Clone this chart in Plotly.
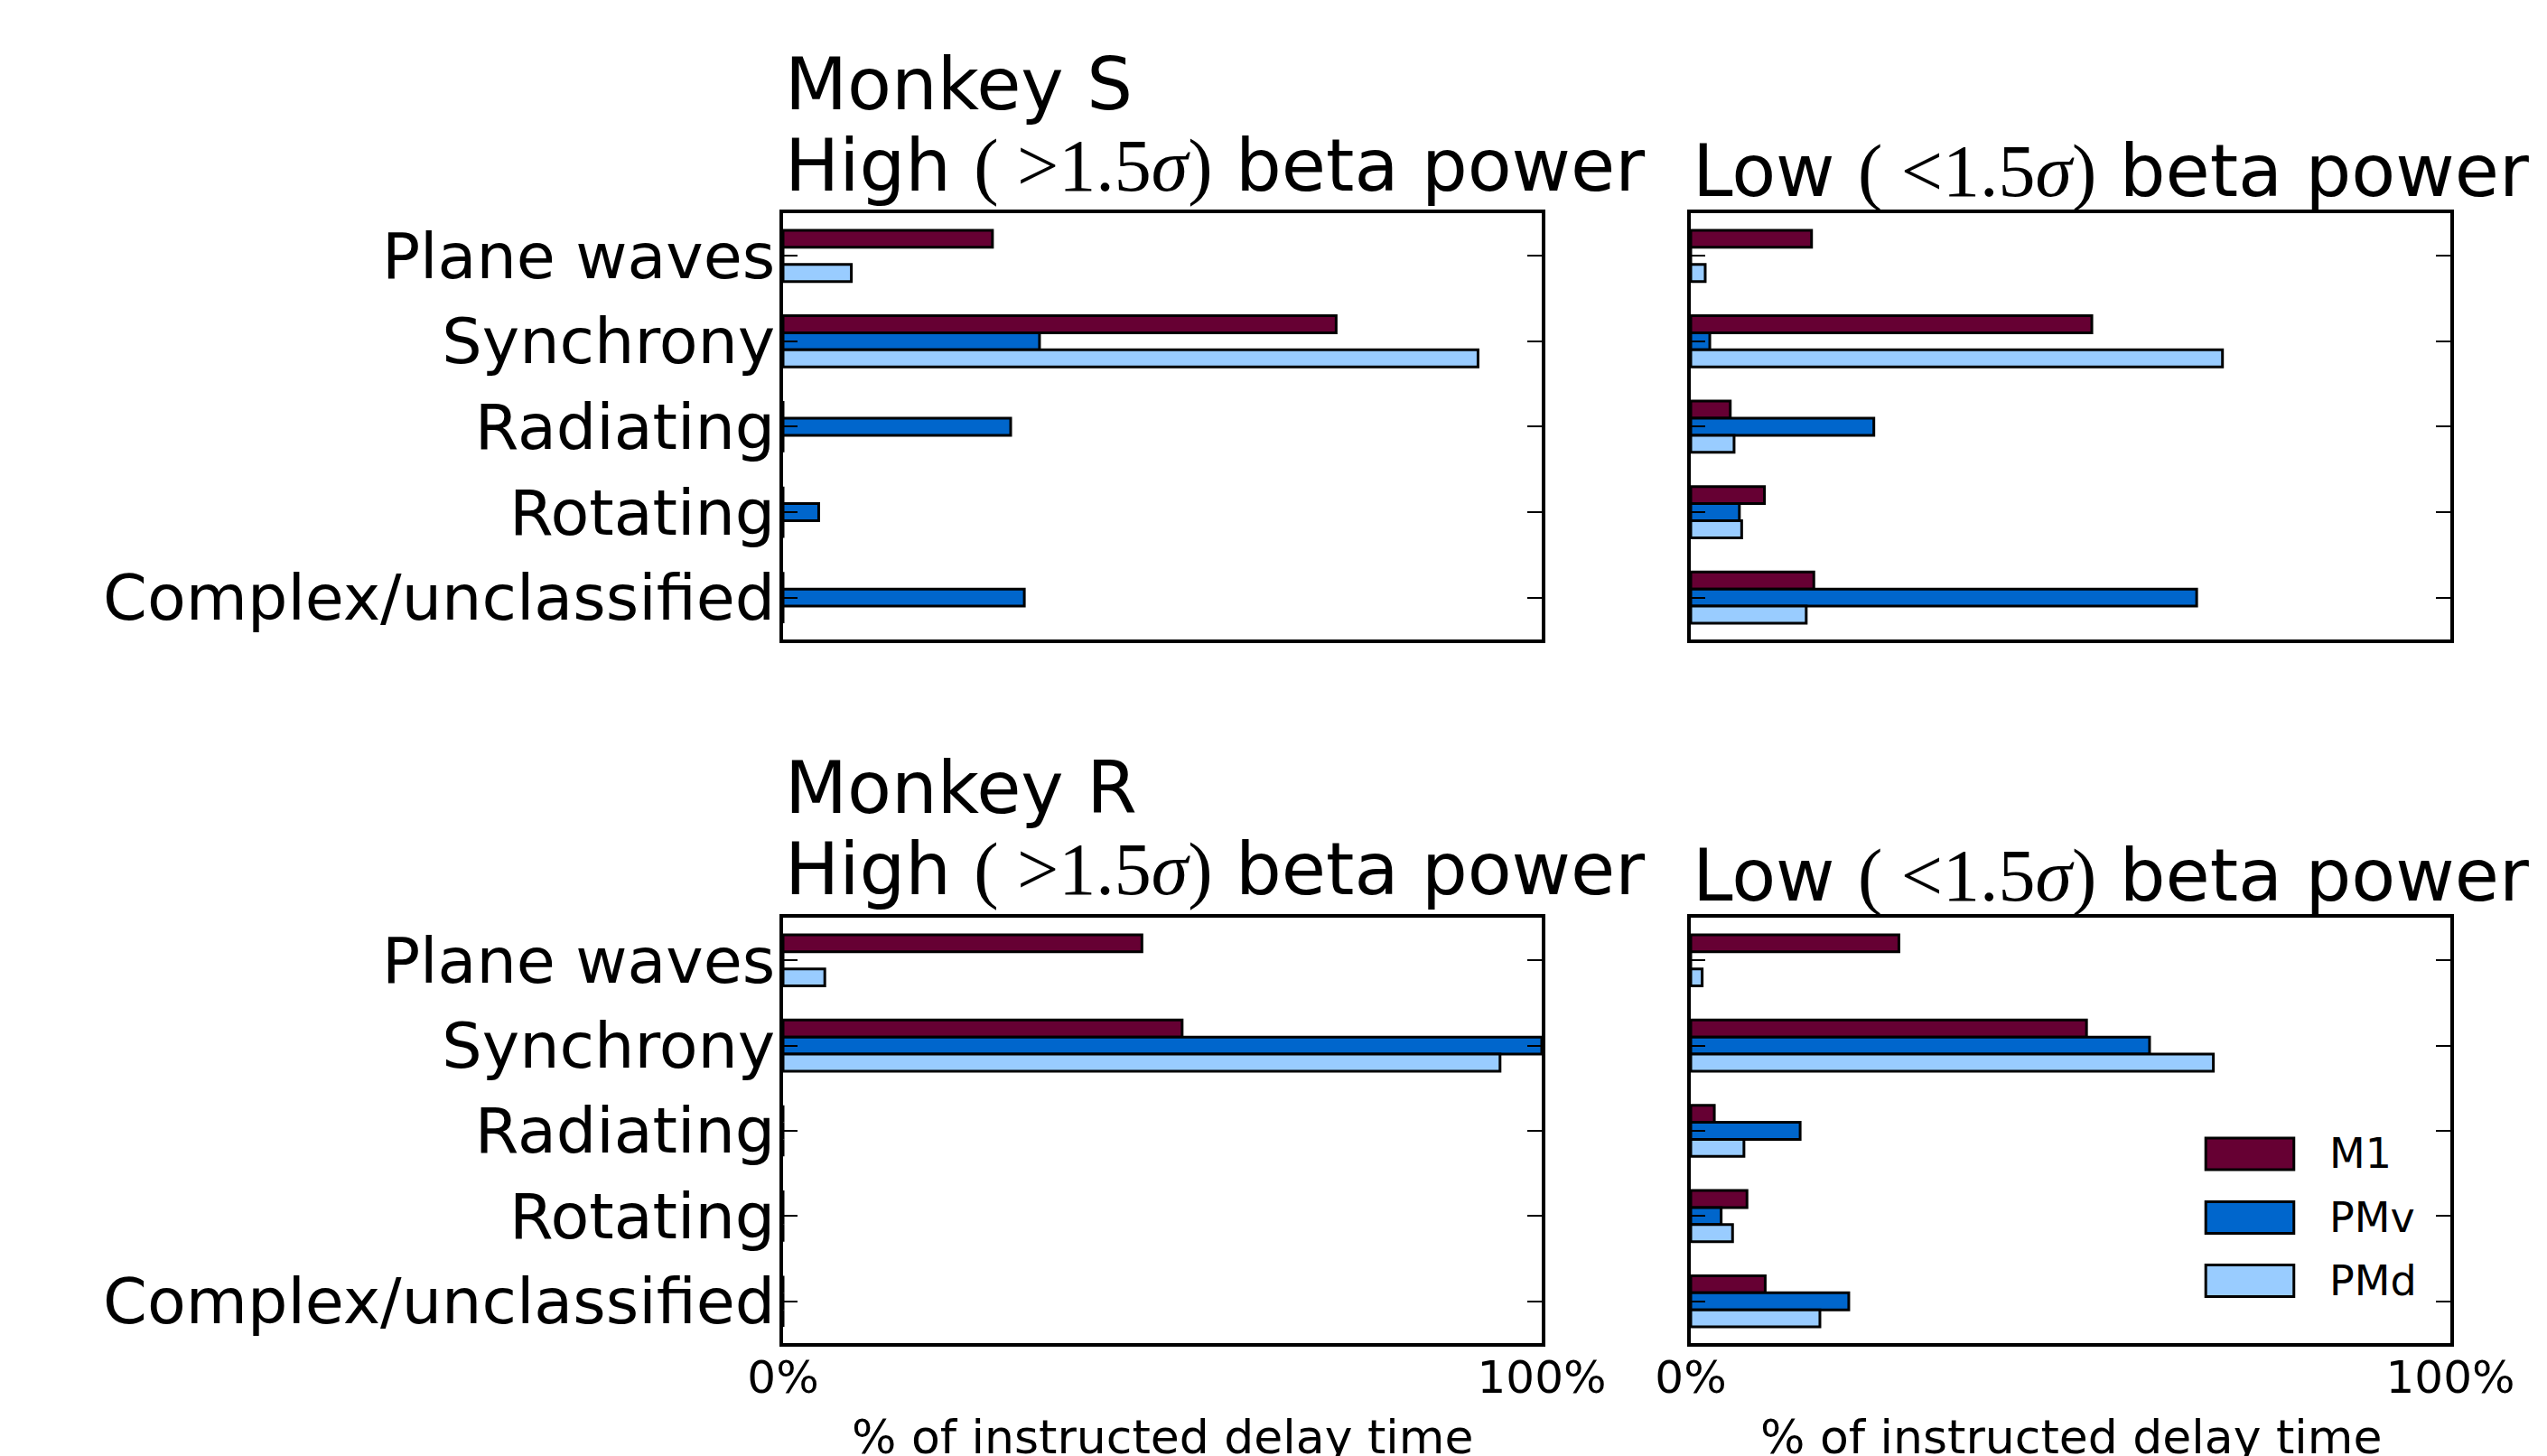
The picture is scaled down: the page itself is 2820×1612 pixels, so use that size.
import plotly.graph_objects as go

# ---------------- data ----------------
categories = ["Plane waves", "Synchrony", "Radiating", "Rotating", "Complex/unclassified"]
series_names = ["M1", "PMv", "PMd"]
series_colors = ["#660033", "#0066CC", "#99CCFF"]

# Monkey S, high beta power (% of instructed delay time)
s_high_m1 = [27.6, 72.9, 0.0, 0.0, 0.0]
s_high_pmv = [0.0, 33.8, 30.0, 4.7, 31.8]
s_high_pmd = [9.0, 91.6, 0.0, 0.0, 0.0]
# Monkey S, low beta power
s_low_m1 = [15.9, 52.8, 5.2, 9.7, 16.2]
s_low_pmv = [0.0, 2.5, 24.1, 6.4, 66.6]
s_low_pmd = [1.9, 70.0, 5.7, 6.7, 15.2]
# Monkey R, high beta power
r_high_m1 = [47.3, 52.6, 0.0, 0.0, 0.0]
r_high_pmv = [0.0, 100.0, 0.0, 0.0, 0.0]
r_high_pmd = [5.5, 94.5, 0.0, 0.0, 0.0]
# Monkey R, low beta power
r_low_m1 = [27.4, 52.1, 3.1, 7.4, 9.8]
r_low_pmv = [0.0, 60.4, 14.4, 4.0, 20.8]
r_low_pmd = [1.5, 68.8, 7.0, 5.5, 17.0]

x_tickvals = [0, 100]
x_ticktext = ["0%", "100%"]
x_title = "% of instructed delay time"

MATH = "font-family:'Liberation Serif';font-size:82px"
title_high = f"High <span style=\"{MATH}\">( &gt;1.5<i>σ</i>)</span> beta power"
title_low = f"Low <span style=\"{MATH}\">( &lt;1.5<i>σ</i>)</span> beta power"
monkey_titles = ["Monkey S", "Monkey R"]

panels = [
    ([s_high_m1, s_high_pmv, s_high_pmd], "x", "y"),
    ([s_low_m1, s_low_pmv, s_low_pmd], "x2", "y2"),
    ([r_high_m1, r_high_pmv, r_high_pmd], "x3", "y3"),
    ([r_low_m1, r_low_pmv, r_low_pmd], "x4", "y4"),
]

# ---------------- layout geometry ----------------
W, H = 2820, 1612
FONT = "DejaVu Sans"
col_px = [(867, 1707), (1872, 2713)]
row_px = [(236, 708), (1016, 1487)]


def xdom(c):
    return [col_px[c][0] / W, col_px[c][1] / W]


def ydom(r):
    return [(H - row_px[r][1]) / H, (H - row_px[r][0]) / H]


fig = go.Figure()

for vals, xa, ya in panels:
    for name, color, v in zip(series_names, series_colors, vals):
        fig.add_trace(go.Bar(
            x=v, y=categories, orientation="h", name=name,
            marker=dict(color=color, line=dict(color="black", width=3)),
            xaxis=xa, yaxis=ya, showlegend=False,
        ))

layout = dict(
    width=W, height=H,
    margin=dict(l=0, r=0, t=0, b=0, autoexpand=False),
    paper_bgcolor="white", plot_bgcolor="white",
    barmode="group", bargap=0.4, bargroupgap=0.0,
    font=dict(family=FONT, color="black"),
)

axis_names = [("xaxis", "yaxis"), ("xaxis2", "yaxis2"), ("xaxis3", "yaxis3"), ("xaxis4", "yaxis4")]
for i, (xn, yn) in enumerate(axis_names):
    r, c = divmod(i, 2)
    layout[xn] = dict(
        domain=xdom(c), range=[0, 100], anchor=yn.replace("axis", ""),
        tickvals=x_tickvals, ticktext=x_ticktext, ticks="",
        showticklabels=(r == 1), tickfont=dict(size=50, family=FONT),
        ticklabelstandoff=-9, automargin=False,
        showline=True, linecolor="black", linewidth=3.5, mirror=True,
        showgrid=False, zeroline=False, fixedrange=True,
    )
    layout[yn] = dict(
        domain=ydom(r), anchor=xn.replace("axis", ""),
        type="category", categoryorder="array", categoryarray=categories,
        range=[4.49, -0.5],
        ticks="inside", ticklen=16, tickwidth=2, tickcolor="black",
        showticklabels=(c == 0), tickfont=dict(size=70, family=FONT),
        ticklabelstandoff=-9, automargin=False,
        showline=True, linecolor="black", linewidth=3.5, mirror="ticks",
        showgrid=False, zeroline=False, fixedrange=True,
    )

fig.update_layout(**layout)

# ---------------- titles ----------------
TSIZE = 80


def baseline_to_paper(bl, size):
    # annotation anchored at bottom: bottom of box ~ baseline + descent
    return (H - (bl + 0.236 * size + 1)) / H


annotations = []
title_baselines = [(122, 212, 218), (901, 991, 998)]
for r in range(2):
    b_monkey, b_high, b_low = title_baselines[r]
    annotations.append(dict(text=monkey_titles[r], x=col_px[0][0] / W, xanchor="left",
                            y=baseline_to_paper(b_monkey, TSIZE), yanchor="bottom",
                            xref="paper", yref="paper", showarrow=False,
                            font=dict(size=TSIZE, family=FONT)))
    annotations.append(dict(text=title_high, x=col_px[0][0] / W, xanchor="left",
                            y=baseline_to_paper(b_high, TSIZE), yanchor="bottom",
                            xref="paper", yref="paper", showarrow=False,
                            font=dict(size=TSIZE, family=FONT)))
    annotations.append(dict(text=title_low, x=col_px[1][0] / W, xanchor="left",
                            y=baseline_to_paper(b_low, TSIZE), yanchor="bottom",
                            xref="paper", yref="paper", showarrow=False,
                            font=dict(size=TSIZE, family=FONT)))

# x-axis titles (cut off at the bottom as in the original)
for c in range(2):
    annotations.append(dict(text=x_title, x=(col_px[c][0] + col_px[c][1]) / 2 / W, xanchor="center",
                            y=(H - 1559) / H, yanchor="top", xref="paper", yref="paper",
                            showarrow=False, font=dict(size=52, family=FONT)))

# ---------------- legend (bottom-right panel) ----------------
shapes = []
leg_rows = [0.4448, 0.2951, 0.1465]
for name, color, yc in zip(series_names, series_colors, leg_rows):
    shapes.append(dict(type="rect", xref="x4 domain", yref="y4 domain",
                       x0=0.678, x1=0.794, y0=yc - 0.037, y1=yc + 0.037,
                       fillcolor=color, line=dict(color="black", width=3)))
    annotations.append(dict(text=name, xref="x4 domain", yref="y4 domain",
                            x=0.838, xanchor="left", y=yc, yanchor="middle",
                            showarrow=False, font=dict(size=46, family=FONT)))

fig.update_layout(annotations=annotations, shapes=shapes)

fig.write_html("out.html")
